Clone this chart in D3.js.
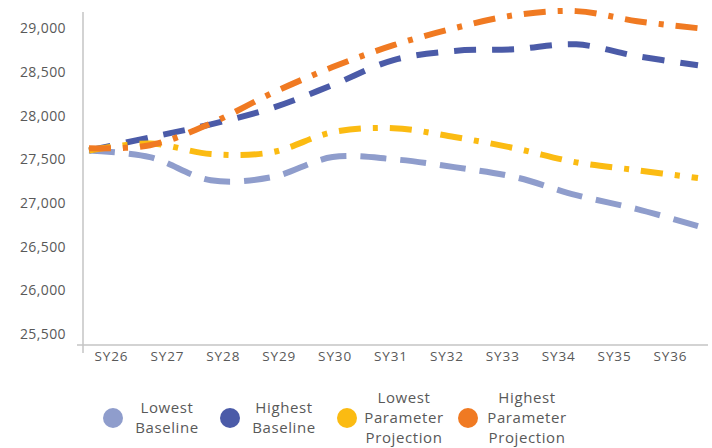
<!DOCTYPE html>
<html><head><meta charset="utf-8">
<script src="https://cdn.jsdelivr.net/npm/d3@7"></script>
<style>body{margin:0;background:#fff}svg{display:block;font-family:"Open Sans",sans-serif}</style>
</head><body><svg id="c" width="712" height="448"></svg>
<script>
const categories = ["SY26","SY27","SY28","SY29","SY30","SY31","SY32","SY33","SY34","SY35","SY36"];
const lowestBaseline = [27600,27525,27260,27295,27525,27500,27410,27295,27090,26930,26735];
const highestBaseline = [27600,27750,27900,28085,28350,28635,28740,28760,28815,28680,28575];
const lowestParam = [27600,27680,27560,27580,27810,27855,27755,27625,27465,27375,27285];
const highestParam = [27625,27660,27910,28255,28555,28805,29000,29150,29195,29080,29000];
const yTicks = [25500,26000,26500,27000,27500,28000,28500,29000];
const seriesNames = [["Lowest","Baseline"],["Highest","Baseline"],["Lowest","Parameter","Projection"],["Highest","Parameter","Projection"]];
const colors = ["#8f9dcc","#4b5ba8","#fbbb12","#f07a22"];
const dashes = ["26,14","22,16","22,12,5,12","22,12,5,12"];
const seriesData = [lowestBaseline, highestBaseline, lowestParam, highestParam];

const svg = d3.select("#c");
const x = d3.scalePoint().domain(categories).range([111, 670]);
const xLine = d3.scalePoint().domain(categories).range([89, 698]);
const y = d3.scaleLinear().domain([25375, 29185]).range([345, 12]);

svg.append("line").attr("x1",83).attr("x2",83).attr("y1",y(29185)).attr("y2",353).attr("stroke","#c4c4c4").attr("stroke-width",1.5);
svg.append("line").attr("x1",77).attr("x2",708).attr("y1",y(25375)).attr("y2",y(25375)).attr("stroke","#c4c4c4").attr("stroke-width",1.5);

const yAxis = d3.axisLeft(y).tickValues(yTicks).tickSize(0).tickPadding(0).tickFormat(d3.format(","));
const ga = svg.append("g").attr("transform","translate(66,0)").call(yAxis);
ga.select(".domain").remove();
ga.selectAll("text").attr("fill","#595959").style("font-size","14px").style("letter-spacing","0.4px").style("font-family","'Open Sans',sans-serif");

const xAxis = d3.axisBottom(x).tickSize(0).tickPadding(0);
const gx = svg.append("g").attr("transform","translate(0,351)").call(xAxis);
gx.select(".domain").remove();
gx.selectAll("text").attr("fill","#595959").style("font-size","13.5px").style("letter-spacing","0.9px").style("font-family","'Open Sans',sans-serif");

const line = d3.line().x((d,i)=>xLine(categories[i])).y(d=>y(d)).curve(d3.curveCatmullRom.alpha(0.5));
seriesData.forEach((s,k)=>{
  svg.append("path").attr("d",line(s)).attr("fill","none").attr("stroke",colors[k])
    .attr("stroke-width",6).attr("stroke-dasharray",dashes[k]);
});

const legendX = [[113,167],[230,284],[347,404],[468,527]];
seriesNames.forEach((names,k)=>{
  svg.append("circle").attr("cx",legendX[k][0]).attr("cy",418).attr("r",10).attr("fill",colors[k]);
  const n = names.length;
  const t = svg.append("text").attr("text-anchor","middle").attr("fill","#595959").style("font-size","15px").style("letter-spacing","0.6px");
  names.forEach((w,j)=>{
    t.append("tspan").attr("x",legendX[k][1]).attr("y",418 + (j-(n-1)/2)*20 + 5).text(w);
  });
});
</script></body></html>
